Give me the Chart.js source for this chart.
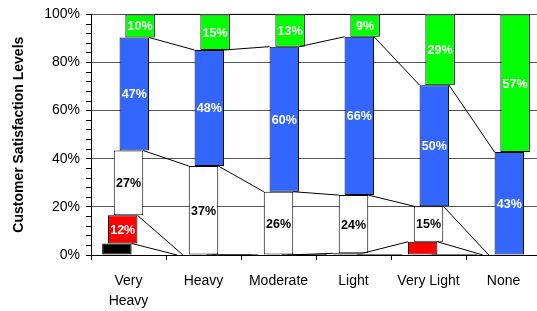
<!DOCTYPE html>
<html>
<head>
<meta charset="utf-8">
<script src="https://cdn.jsdelivr.net/npm/chart.js@4.4.1/dist/chart.umd.min.js"></script>
<style>
  html, body { margin: 0; padding: 0; background: #fff; overflow: hidden; }
  #wrap { width: 545px; height: 311px; }
</style>
</head>
<body>
<div id="wrap"><canvas id="chart"></canvas></div>
<script>
  const categories = [["Very", "Heavy"], "Heavy", "Moderate", "Light", "Very Light", "None"];
  const blackVals = [4.8, 0, 0, 0, 0, 0];
  const redVals = [11.7, 0, 0, 0.7, 5.5, 0];
  const whiteVals = [26.9, 37.0, 26.3, 24.2, 14.8, 0];
  const blueVals = [47.0, 48.2, 60.3, 65.8, 50.3, 42.8];
  const greenVals = [9.6, 14.8, 13.4, 9.3, 29.4, 57.2];
  const yMajorStep = 20;

  const FONT = "'Liberation Sans', Arial, sans-serif";

  // Excel style series lines between neighbouring bars
  const seriesLines = {
    id: "seriesLines",
    afterDatasetsDraw(chart) {
      const ctx = chart.ctx;
      ctx.save();
      ctx.strokeStyle = "#000";
      ctx.lineWidth = 1;
      chart.data.datasets.forEach((ds, i) => {
        const bars = chart.getDatasetMeta(i).data;
        for (let j = 0; j < bars.length - 1; j++) {
          const a = bars[j], b = bars[j + 1];
          ctx.beginPath();
          ctx.moveTo(a.x + a.width / 2, a.y);
          ctx.lineTo(b.x - b.width / 2, b.y);
          ctx.stroke();
        }
      });
      ctx.restore();
    }
  };

  const barLabels = {
    id: "barLabels",
    afterDatasetsDraw(chart) {
      const ctx = chart.ctx;
      ctx.save();
      ctx.font = "bold 12.5px " + FONT;
      ctx.textAlign = "center";
      ctx.textBaseline = "middle";
      chart.data.datasets.forEach((ds, i) => {
        chart.getDatasetMeta(i).data.forEach((bar, j) => {
          const v = ds.data[j];
          if (v < 8) return;
          ctx.fillStyle = ds.labelColor;
          ctx.fillText(Math.round(v) + "%", bar.x, (bar.y + bar.base) / 2 + 1);
        });
      });
      ctx.restore();
    }
  };

  function series(data, color, labelColor) {
    return {
      data: data,
      backgroundColor: color,
      borderColor: "#000",
      borderWidth: 1,
      borderSkipped: false,
      labelColor: labelColor
    };
  }

  new Chart(document.getElementById("chart"), {
    type: "bar",
    data: {
      labels: categories,
      datasets: [
        series(blackVals, "#000000", "#fff"),
        series(redVals, "#ff0000", "#fff"),
        series(whiteVals, "#ffffff", "#000"),
        series(blueVals, "#3366ff", "#fff"),
        series(greenVals, "#00ff00", "#fff")
      ]
    },
    options: {
      responsive: true,
      maintainAspectRatio: false,
      animation: false,
      categoryPercentage: 0.387,
      barPercentage: 5.08,
      layout: { padding: { top: 12, right: 4, left: 0, bottom: 0 } },
      plugins: {
        legend: { display: false },
        tooltip: { enabled: false }
      },
      scales: {
        x: {
          stacked: false,
          offset: true,
          afterFit: (s) => { s.height = 56; },
          grid: {
            offset: true,
            drawOnChartArea: false,
            tickLength: 5,
            tickColor: "#000"
          },
          border: { display: true, color: "#000" },
          ticks: {
            color: "#000",
            padding: 11,
            maxRotation: 0,
            autoSkip: false,
            font: { family: FONT, size: 14, lineHeight: 1.43 }
          }
        },
        y: {
          stacked: true,
          min: 0,
          max: 100,
          afterFit: (s) => { s.width = 91; },
          title: {
            display: true,
            text: "Customer Satisfaction Levels",
            color: "#000",
            padding: { top: 11, bottom: 0 },
            font: { family: FONT, size: 14, weight: "bold" }
          },
          grid: {
            color: (c) => (c.tick && c.tick.value % yMajorStep === 0 ? "#555" : "rgba(0,0,0,0)"),
            tickColor: "#000",
            tickLength: 5
          },
          border: { display: true, color: "#000" },
          ticks: {
            stepSize: 4,
            maxTicksLimit: 30,
            autoSkip: false,
            padding: 6,
            color: "#000",
            font: { family: FONT, size: 14 },
            callback: (v) => (v % yMajorStep === 0 ? v + "%" : "")
          }
        }
      }
    },
    plugins: [seriesLines, barLabels]
  });
</script>
</body>
</html>
